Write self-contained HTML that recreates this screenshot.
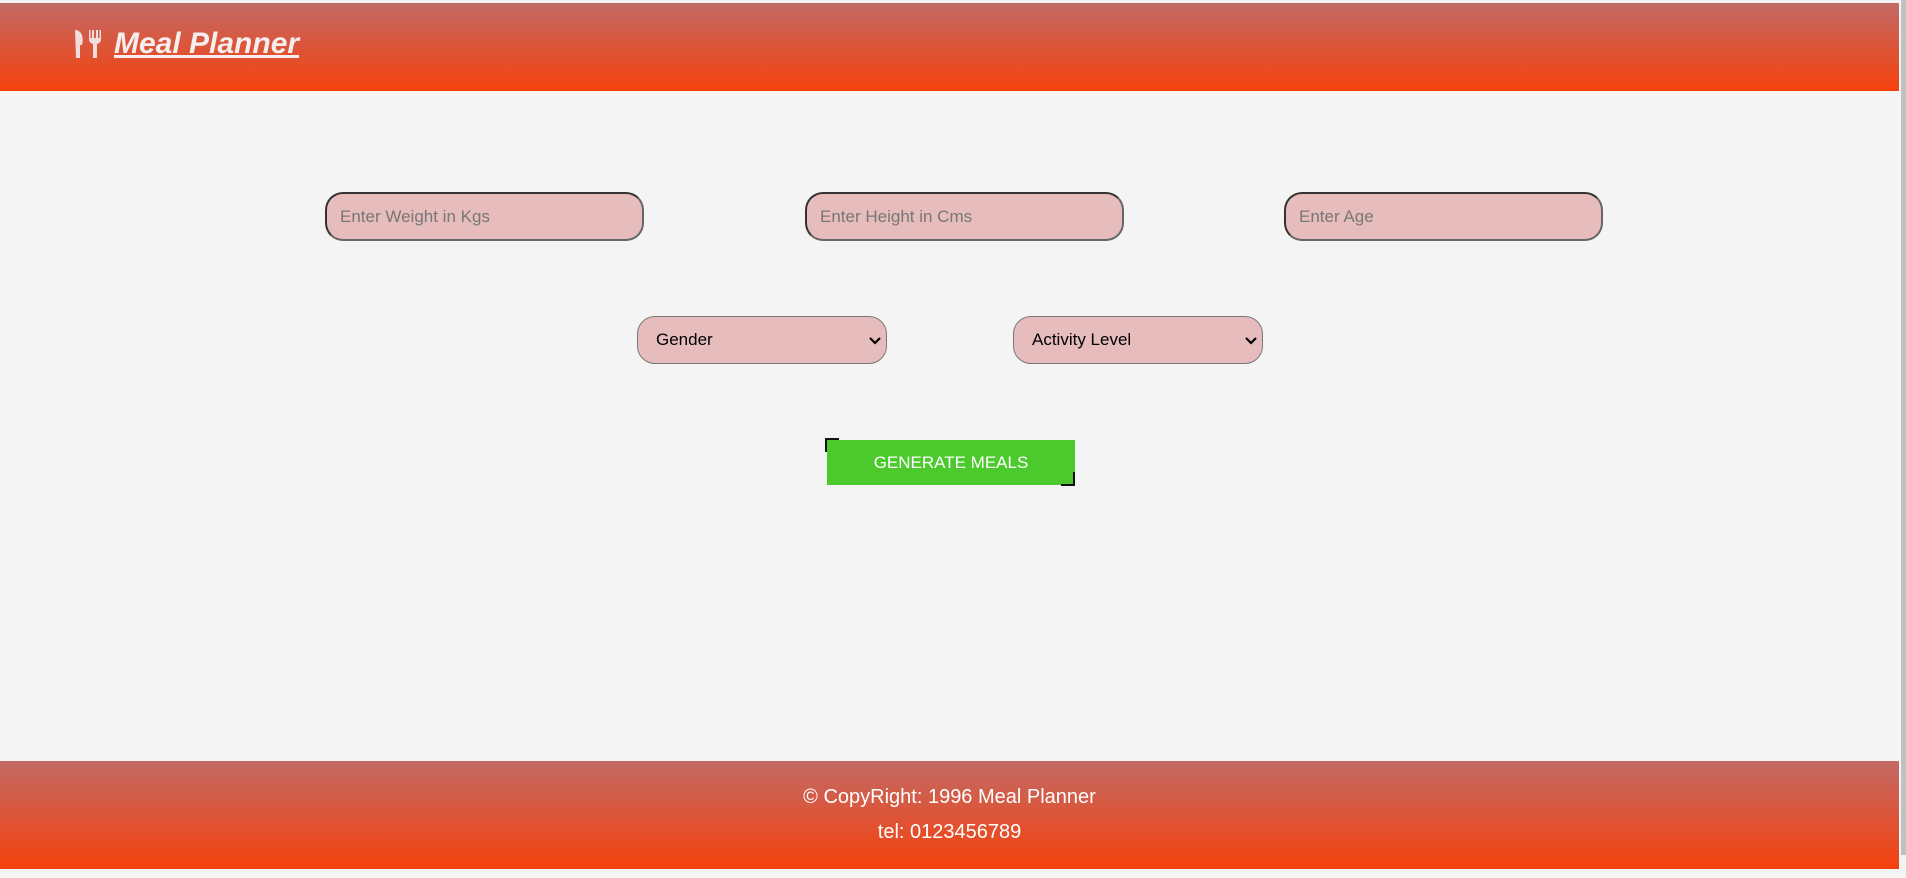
<!DOCTYPE html>
<html><head><style>
html,body{margin:0;padding:0;width:1906px;height:878px;background:#f4f4f4;overflow:hidden;font-family:"Liberation Sans",Arial,sans-serif;position:relative}
.grad{position:absolute;left:0;width:1899px;background:linear-gradient(#c26a66,#f5410c)}
.hdr{top:3px;height:88px}
.ftr{top:761px;height:108px;color:#fff;text-align:center;font-size:20px}
.title{position:absolute;left:114px;top:24px;font-size:30px;font-weight:bold;font-style:italic;text-decoration:underline;color:#f6eeee}
.inp{position:absolute;top:192px;height:49px;width:319px;border:2px solid #333;border-radius:18px;background:#e7bcbc;box-sizing:border-box;font-size:17px;color:#777;padding-left:13px;line-height:45px;border-right-color:#666;border-bottom-color:#666}
.sel{position:absolute;top:316px;height:48px;width:250px;border:1px solid #777;border-radius:18px;background:#e7bcbc;box-sizing:border-box;font-size:17px;color:#000;padding-left:18px;line-height:46px}
.sel svg{position:absolute;right:5px;top:19px}
.btn{position:absolute;left:827px;top:440px;width:248px;height:45px;background:#4bc92d;color:#fff;font-size:17px;text-align:center;line-height:45px}
.c1{position:absolute;left:825px;top:438px;width:14px;height:14px;border-left:2px solid #111;border-top:2px solid #111;box-sizing:border-box}
.c2{position:absolute;left:1061px;top:472px;width:14px;height:14px;border-right:2px solid #111;border-bottom:2px solid #111;box-sizing:border-box}
.sb{position:absolute;left:1901px;top:0;width:5px;height:855px;background:#c1c1c1}
</style></head><body>
<div class="grad hdr">
<svg style="position:absolute;left:74px;top:25px" width="28" height="31" viewBox="0 0 28 31"><path d="M1 2 C8 2 10 10 8 17 L6 17 L6 30 L2 30 Z" fill="#f2dcdc"/><path d="M15 2 L15 11 Q15 15 19 16 L19 30 L23 30 L23 16 Q27 15 27 11 L27 2 L25.5 2 L25.5 10 L24 10 L24 2 L22 2 L22 10 L20 10 L20 2 L18 2 L18 10 L16.5 10 L16.5 2 Z" fill="#f2dcdc"/></svg>
<div class="title">Meal Planner</div>
</div>
<div class="inp" style="left:325px">Enter Weight in Kgs</div>
<div class="inp" style="left:805px">Enter Height in Cms</div>
<div class="inp" style="left:1284px">Enter Age</div>
<div class="sel" style="left:637px">Gender<svg width="12" height="9" viewBox="0 0 12 9"><path d="M1 2 L6 7 L11 2" stroke="#000" stroke-width="2.2" fill="none"/></svg></div>
<div class="sel" style="left:1013px">Activity Level<svg width="12" height="9" viewBox="0 0 12 9"><path d="M1 2 L6 7 L11 2" stroke="#000" stroke-width="2.2" fill="none"/></svg></div>
<div class="btn">GENERATE MEALS</div>
<div class="c1"></div><div class="c2"></div>
<div class="grad ftr"><div style="position:absolute;width:100%;top:25px">© CopyRight: 1996 Meal Planner</div><div style="position:absolute;width:100%;top:60px">tel: 0123456789</div></div>
<div class="sb"></div>
</body></html>
